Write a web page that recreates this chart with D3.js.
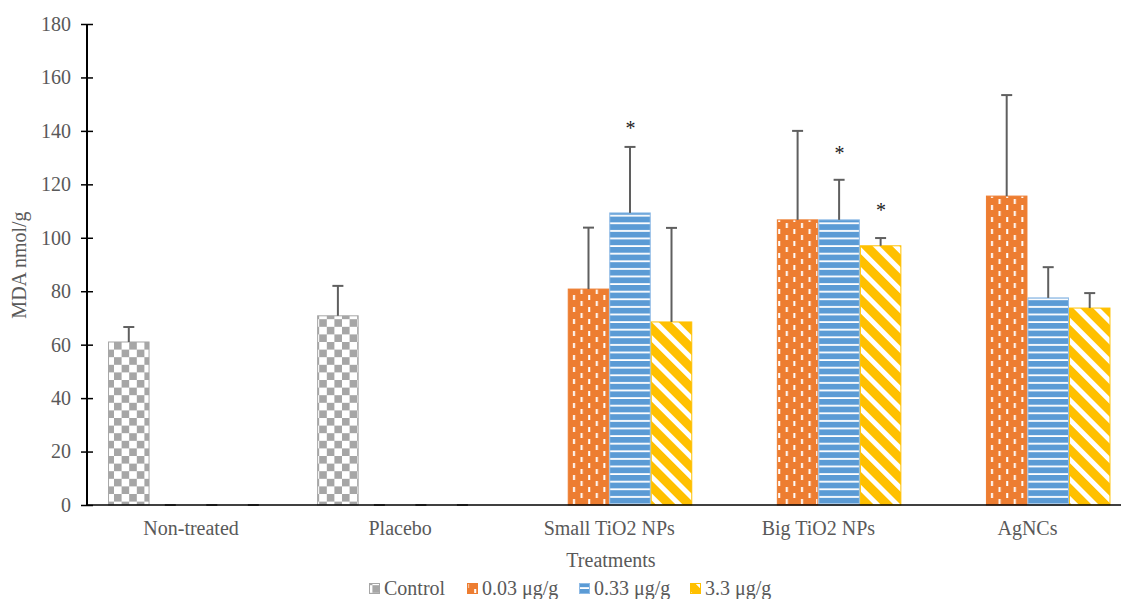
<!DOCTYPE html>
<html>
<head>
<meta charset="utf-8">
<script src="https://cdn.jsdelivr.net/npm/d3@7"></script>
<style>
  body { margin: 0; background: #fff; }
  svg { display: block; font-family: "Liberation Serif", "Times New Roman", serif; }
</style>
</head>
<body>
<svg width="1121" height="599"></svg>
<script>
// данные графика
const categories = ["Non-treated", "Placebo", "Small TiO2 NPs", "Big TiO2 NPs", "AgNCs"];
const seriesNames = ["Control", "0.03 μg/g", "0.33 μg/g", "3.3 μg/g"];
// null - столбца нет
const controlVals = [61, 70.8, null, null, null];
const controlErr = [5.6, 11.2, null, null, null];
const low = [0, 0, 80.8, 106.7, 115.6];
const lowErr = [0, 0, 23, 33.3, 37.8];
const mid = [0, 0, 109.3, 106.7, 77.5];
const midErr = [0, 0, 24.7, 15, 11.5];
const high = [0, 0, 68.5, 97, 73.7];
const highErr = [0, 0, 35.2, 2.9, 5.6];
// звёздочки: [категория, серия, уровень]
const stars = [[2, 2, 142.2], [3, 2, 132.9], [3, 3, 111.5]];
const yTicks = [0, 20, 40, 60, 80, 100, 120, 140, 160, 180];

const svg = d3.select("svg");
const defs = svg.append("defs");

const textColor = "#595959";
const fontSize = "20px";

// узоры заливки
function checker() {
    const p = defs.append("pattern").attr("id", "pat0")
        .attr("patternUnits", "userSpaceOnUse").attr("width", 15.2).attr("height", 15.2);
    p.append("rect").attr("width", 15.2).attr("height", 15.2).attr("fill", "#fff");
    p.append("rect").attr("width", 7.6).attr("height", 7.6).attr("fill", "#a6a6a6");
    p.append("rect").attr("x", 7.6).attr("y", 7.6).attr("width", 7.6).attr("height", 7.6).attr("fill", "#a6a6a6");
}
function dashes() {
    const p = defs.append("pattern").attr("id", "pat1")
        .attr("patternUnits", "userSpaceOnUse").attr("width", 15.2).attr("height", 12);
    p.append("rect").attr("width", 15.2).attr("height", 12).attr("fill", "#ed7d31");
    p.append("rect").attr("x", 3).attr("y", 1).attr("width", 2).attr("height", 5).attr("fill", "#fff");
    p.append("rect").attr("x", 10.6).attr("y", 7).attr("width", 2).attr("height", 5).attr("fill", "#fff");
}
function hlines() {
    const p = defs.append("pattern").attr("id", "pat2")
        .attr("patternUnits", "userSpaceOnUse").attr("width", 8).attr("height", 7.6);
    p.append("rect").attr("width", 8).attr("height", 7.6).attr("fill", "#5b9bd5");
    p.append("rect").attr("y", 2).attr("width", 8).attr("height", 1.8).attr("fill", "#fff");
}
function diag() {
    const p = defs.append("pattern").attr("id", "pat3")
        .attr("patternUnits", "userSpaceOnUse").attr("width", 14).attr("height", 14)
        .attr("patternTransform", "rotate(45)");
    p.append("rect").attr("width", 14).attr("height", 14).attr("fill", "#ffc000");
    p.append("rect").attr("width", 14).attr("height", 5).attr("fill", "#fff");
}
checker(); dashes(); hlines(); diag();

const fills = ["url(#pat0)", "url(#pat1)", "url(#pat2)", "url(#pat3)"];
const strokes = ["#a6a6a6", "#ed7d31", "#8fbbe6", "#ffc000"];

const attr_area = { left: 87, right: 1132, top: 24, bottom: 505 };

const scX = d3.scaleBand()
    .domain(categories)
    .range([attr_area.left - 0.5, attr_area.right])
    .paddingInner(0.206)
    .paddingOuter(0.103);
const scSeries = d3.scaleBand()
    .domain(d3.range(4))
    .range([0, scX.bandwidth()]);
const scY = d3.scaleLinear()
    .domain([0, 180])
    .range([attr_area.bottom, attr_area.top]);

const allVals = [controlVals, low, mid, high];
const allErr = [controlErr, lowErr, midErr, highErr];

let bars = [];
categories.forEach((c, i) => {
    for (let k = 0; k < 4; k++) {
        if (allVals[k][i] === null) continue;
        bars.push({ cat: c, i: i, k: k, v: allVals[k][i], e: allErr[k][i] });
    }
});

// столбцы
svg.selectAll(".bar")
    .data(bars.filter(d => d.v > 0))
    .enter()
    .append("rect")
    .attr("x", d => scX(d.cat) + scSeries(d.k) + 0.5)
    .attr("y", d => scY(d.v))
    .attr("width", scSeries.bandwidth() - 1)
    .attr("height", d => scY(0) - scY(d.v))
    .attr("fill", d => fills[d.k])
    .attr("stroke", d => strokes[d.k])
    .attr("stroke-width", 1);

// погрешности
const errG = svg.append("g").attr("stroke", "#5f5f5f").attr("stroke-width", 2);
bars.forEach(d => {
    const cx = scX(d.cat) + scSeries(d.k) + scSeries.bandwidth() / 2;
    if (d.e > 0) {
        errG.append("line").attr("x1", cx).attr("x2", cx)
            .attr("y1", scY(d.v)).attr("y2", scY(d.v + d.e));
    }
    errG.append("line").attr("x1", cx - 5.5).attr("x2", cx + 5.5)
        .attr("y1", scY(d.v + d.e)).attr("y2", scY(d.v + d.e));
});

// оси
svg.append("line")
    .attr("x1", attr_area.left).attr("x2", 1121)
    .attr("y1", scY(0)).attr("y2", scY(0))
    .attr("stroke", "#000").attr("stroke-width", 1.5);

const axisY = d3.axisLeft(scY).tickValues(yTicks).tickSize(0).tickPadding(16);
const gY = svg.append("g")
    .attr("transform", `translate(${attr_area.left},0)`)
    .call(axisY);
gY.select(".domain").remove();
gY.append("line").attr("y1", scY(180)).attr("y2", scY(0))
    .attr("stroke", "#000").attr("stroke-width", 2);
gY.selectAll(".tick").append("line")
    .attr("x1", -6).attr("x2", 6)
    .attr("stroke", "#000").attr("stroke-width", 1.5);
gY.selectAll("text")
    .style("font-family", "Liberation Serif")
    .style("font-size", fontSize)
    .attr("fill", textColor);

const axisX = d3.axisBottom(scX).tickSize(0).tickPadding(16);
const gX = svg.append("g")
    .attr("transform", `translate(0,${scY(0)})`)
    .call(axisX);
gX.select(".domain").remove();
gX.selectAll("text")
    .style("font-family", "Liberation Serif")
    .style("font-size", fontSize)
    .attr("fill", textColor);

// звёздочки
svg.selectAll(".star")
    .data(stars)
    .enter()
    .append("text")
    .attr("x", d => scX(categories[d[0]]) + scSeries(d[1]) + scSeries.bandwidth() / 2 + 0.5)
    .attr("y", d => scY(d[2]) + 10)
    .attr("text-anchor", "middle")
    .style("font-size", fontSize)
    .attr("fill", "#222")
    .text("*");

// подписи осей
svg.append("text")
    .attr("x", 611).attr("y", 567)
    .attr("text-anchor", "middle")
    .style("font-size", fontSize)
    .attr("fill", textColor)
    .text("Treatments");
svg.append("text")
    .attr("transform", "translate(26,265) rotate(-90)")
    .attr("text-anchor", "middle")
    .style("font-size", fontSize)
    .attr("fill", textColor)
    .text("MDA nmol/g");

// легенда
const legX = [369, 467, 579, 690];
const leg = svg.append("g");
seriesNames.forEach((n, k) => {
    leg.append("rect")
        .attr("x", legX[k] + 0.5).attr("y", 583.5)
        .attr("width", 10).attr("height", 10)
        .attr("fill", fills[k]).attr("stroke", strokes[k]);
    leg.append("text")
        .attr("x", legX[k] + 15).attr("y", 595)
        .style("font-size", fontSize)
        .attr("fill", textColor)
        .text(n);
});
</script>
</body>
</html>
